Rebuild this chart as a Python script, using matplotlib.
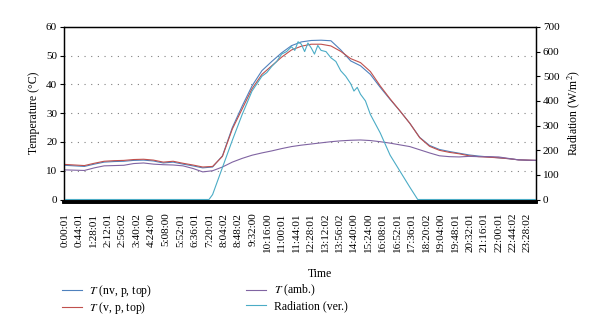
import matplotlib
matplotlib.use("Agg")
import matplotlib.pyplot as plt

plt.rcParams["font.family"] = ["Liberation Serif", "DejaVu Serif"]
plt.rcParams["mathtext.fontset"] = "stix"

# minute-of-day sampling for the temperature series
minutes = [0, 30, 60, 90, 120, 150, 180, 210, 240, 270, 300, 330, 360, 390,
           420, 450, 480, 510, 540, 570, 600, 630, 660, 690, 720, 750, 780,
           810, 840, 870, 900, 930, 960, 990, 1020, 1050, 1080, 1110, 1140,
           1170, 1200, 1230, 1260, 1290, 1320, 1350, 1380, 1410, 1434]

t_nv = [11.9, 11.7, 11.5, 12.3, 13.0, 13.2, 13.3, 13.6, 13.7, 13.4, 12.7,
        13.0, 12.3, 11.7, 11.0, 11.3, 15.2, 25.0, 32.5, 39.5, 44.8, 48.0,
        51.0, 53.5, 54.8, 55.3, 55.4, 55.2, 52.0, 48.2, 46.5, 43.5, 39.0,
        34.8, 30.8, 26.5, 21.6, 18.8, 17.4, 16.7, 16.1, 15.5, 15.1, 14.8,
        14.5, 14.2, 13.8, 13.6, 13.6]

t_v = [12.2, 12.0, 11.8, 12.6, 13.3, 13.5, 13.6, 13.9, 14.0, 13.7, 13.0,
       13.3, 12.6, 12.0, 11.3, 11.5, 15.0, 24.5, 31.5, 38.5, 43.5, 46.5,
       49.5, 52.0, 53.3, 54.0, 54.0, 53.4, 51.5, 49.0, 47.6, 44.5, 39.5,
       35.0, 30.8, 26.5, 21.5, 18.5, 17.1, 16.4, 15.9, 15.2, 14.9, 14.7,
       14.5, 14.2, 13.8, 13.7, 13.6]

t_amb = [10.3, 10.2, 10.1, 11.0, 11.7, 11.8, 11.9, 12.5, 12.7, 12.3, 12.1,
         12.0, 11.7, 10.8, 9.6, 10.0, 11.3, 13.0, 14.3, 15.4, 16.2, 16.9,
         17.7, 18.4, 18.9, 19.3, 19.7, 20.1, 20.4, 20.6, 20.7, 20.5, 20.1,
         19.6, 19.0, 18.4, 17.3, 16.2, 15.2, 14.9, 14.8, 15.0, 14.9, 14.9,
         14.8, 14.3, 13.8, 13.7, 13.6]

# vertical radiation has its own breakpoints (noisy around noon)
rad_minutes = [0, 439, 450, 480, 510, 540, 570, 600, 615, 630, 645, 660,
               675, 690, 700, 710, 720, 730, 740, 750, 760, 770, 780, 795,
               810, 825, 840, 855, 870, 880, 890, 900, 915, 930, 960, 990,
               1020, 1050, 1074, 1434]
radiation = [0, 0, 20, 130, 240, 345, 440, 500, 515, 540, 560, 590, 600,
             620, 605, 640, 630, 600, 635, 615, 590, 625, 605, 600, 575, 560,
             522, 500, 470, 440, 455, 427, 400, 345, 270, 180, 115, 50, 0, 0]

tick_labels = ["0:00:01", "0:44:01", "1:28:01", "2:12:01", "2:56:02",
               "3:40:02", "4:24:00", "5:08:00", "5:52:01", "6:36:01",
               "7:20:01", "8:04:02", "8:48:02", "9:32:00", "10:16:00",
               "11:00:01", "11:44:01", "12:28:01", "13:12:02", "13:56:02",
               "14:40:00", "15:24:00", "16:08:01", "16:52:01", "17:36:01",
               "18:20:02", "19:04:00", "19:48:01", "20:32:01", "21:16:01",
               "22:00:01", "22:44:02", "23:28:02"]


def _to_minutes(label):
    h, m, s = (int(p) for p in label.split(":"))
    return h * 60 + m + s / 60.0


tick_pos = [_to_minutes(s) for s in tick_labels]

c_nv = "#4F81BD"
c_v = "#C0504D"
c_amb = "#8064A2"
c_rad = "#4BACC6"

fig = plt.figure(figsize=(6.0, 3.21), dpi=100)
ax = fig.add_axes([0.1067, 0.3785, 0.7867, 0.5375])
ax2 = ax.twinx()

ax.plot(minutes, t_nv, color=c_nv, lw=0.8, label="$T$ (nv, p, top)")
ax.plot(minutes, t_v, color=c_v, lw=0.8, label="$T$ (v, p, top)")
ax.plot(minutes, t_amb, color=c_amb, lw=0.8, label="$T$ (amb.)")
ax2.plot(rad_minutes, radiation, color=c_rad, lw=0.8, label="Radiation (ver.)")

ax.set_xlim(-2, 1434)
ax.set_ylim(0, 60)
ax.set_yticks(range(0, 61, 10))
ax.set_xticks(tick_pos)
ax.set_xticklabels(tick_labels)
ax.tick_params(axis="x", length=0, pad=8, labelsize=8, labelrotation=90)
ax.tick_params(axis="y", length=3, width=0.8, labelsize=8, pad=2)
for y in range(10, 60, 10):
    ax.axhline(y, color="#808080", lw=0.8, ls=(0, (1, 5)), zorder=0)

ax.set_ylabel("Temperature (°C)", fontsize=8.5, labelpad=4)
ax.set_xlabel("Time", fontsize=8.5)
ax.xaxis.set_label_coords(0.542, -0.395)

ax2.set_ylim(0, 700)
ax2.set_yticks(range(0, 701, 100))
ax2.tick_params(axis="y", length=3, width=0.8, labelsize=8, pad=2)
ax2.set_ylabel("Radiation (W/m$^2$)", fontsize=8.5, labelpad=4)

for a in (ax, ax2):
    for side in ("left", "right", "top"):
        a.spines[side].set_linewidth(0.9)
    a.spines["bottom"].set_linewidth(2.6)
    a.spines["bottom"].set_position(("outward", 1.5))

h1, l1 = ax.get_legend_handles_labels()
h2, l2 = ax2.get_legend_handles_labels()
fig.legend(h1 + h2, l1 + l2, ncol=2, frameon=False, fontsize=8.5,
           loc="upper left", bbox_to_anchor=(0.095, 0.134),
           handlelength=1.7, handletextpad=0.6, columnspacing=8.0,
           labelspacing=0.15, borderaxespad=0)

fig.savefig("out.png", dpi=100)
